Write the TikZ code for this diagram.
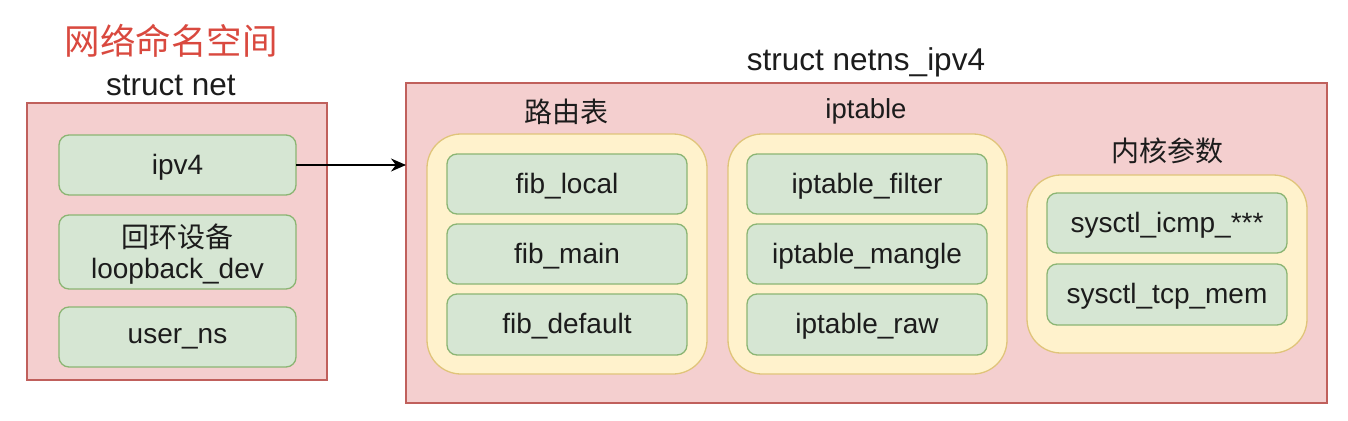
\documentclass[tikz,border=0pt]{standalone}
\usepackage{fontspec}
\setmainfont{Liberation Sans}
\newfontfamily\cjk{Noto Sans CJK SC}
\usetikzlibrary{arrows.meta}
\definecolor{pinkfill}{HTML}{F4CFCF}
\definecolor{pinkline}{HTML}{C0605C}
\definecolor{yelfill}{HTML}{FFF2CC}
\definecolor{yelline}{HTML}{E0C47A}
\definecolor{grnfill}{HTML}{D6E6D3}
\definecolor{grnline}{HTML}{8BB573}
\definecolor{redtitle}{HTML}{D9493F}
\definecolor{txt}{HTML}{1C1C1C}
\tikzset{
  outerbox/.style={draw=pinkline, fill=pinkfill, line width=1.3pt},
  groupbox/.style={draw=yelline, fill=yelfill, line width=1.3pt, rounded corners=34pt},
  itembox/.style={draw=grnline, fill=grnfill, line width=1.3pt, rounded corners=10pt},
  itemtext/.style={text=txt, font=\fontsize{28}{31}\selectfont, align=center},
  grouplabel/.style={text=txt, font=\fontsize{27.5}{31}\selectfont},
  structlabel/.style={text=txt, font=\fontsize{31.5}{34}\selectfont},
}
\begin{document}
\begin{tikzpicture}[x=1pt,y=-1pt]
\useasboundingbox (0,0) rectangle (1348,420);
% left struct
\node[redtitle, font=\cjk\fontsize{35.5}{40}\selectfont] (title) at (171,41) {网络命名空间};
\node[structlabel] (netlbl) at (171,85) {struct net};
\draw[outerbox] (27,103) rectangle (327,380);
\draw[itembox] (59,135) rectangle (296,195);
\node[itemtext] (ipv4) at (177.5,167) {ipv4};
\draw[itembox] (59,215) rectangle (296,289);
\node[itemtext] (loop) at (177.5,254) {{\cjk 回环设备}\\loopback\_dev};
\draw[itembox] (59,307) rectangle (296,367);
\node[itemtext] (userns) at (177.5,339) {user\_ns};
\coordinate (ipv4r) at (296,165);
% right struct
\node[structlabel] (ipv4lbl) at (866,62) {struct netns\_ipv4};
\draw[outerbox] (406,83) rectangle (1327,403);
\coordinate (netnsl) at (406,165);
% routing table
\node[grouplabel, font=\cjk\fontsize{28}{31}\selectfont] (rtlbl) at (566,112) {路由表};
\draw[groupbox] (427,134) rectangle (707,374);
\draw[itembox] (447,154) rectangle (687,214);
\node[itemtext] (fiblocal) at (567,186) {fib\_local};
\draw[itembox] (447,224) rectangle (687,284);
\node[itemtext] (fibmain) at (567,256) {fib\_main};
\draw[itembox] (447,294) rectangle (687,355);
\node[itemtext] (fibdef) at (567,326.5) {fib\_default};
% iptable
\node[grouplabel] (iptlbl) at (866,111) {iptable};
\draw[groupbox] (728,134) rectangle (1007,374);
\draw[itembox] (747,154) rectangle (987,214);
\node[itemtext] (iptfilter) at (867,186) {iptable\_filter};
\draw[itembox] (747,224) rectangle (987,284);
\node[itemtext] (iptmangle) at (867,256) {iptable\_mangle};
\draw[itembox] (747,294) rectangle (987,355);
\node[itemtext] (iptraw) at (867,326.5) {iptable\_raw};
% kernel params
\node[grouplabel, font=\cjk\fontsize{28}{31}\selectfont] (kplbl) at (1167,151) {内核参数};
\draw[groupbox] (1027,175) rectangle (1307,353);
\draw[itembox] (1047,193) rectangle (1287,253);
\node[itemtext] (icmp) at (1167,225) {sysctl\_icmp\_***};
\draw[itembox] (1047,264) rectangle (1287,325);
\node[itemtext] (tcpmem) at (1167,296.5) {sysctl\_tcp\_mem};
% arrow
\draw[-{Stealth[length=15pt,width=13pt]}, line width=1.4pt, black] (ipv4r) -- (netnsl);
\end{tikzpicture}
\end{document}
